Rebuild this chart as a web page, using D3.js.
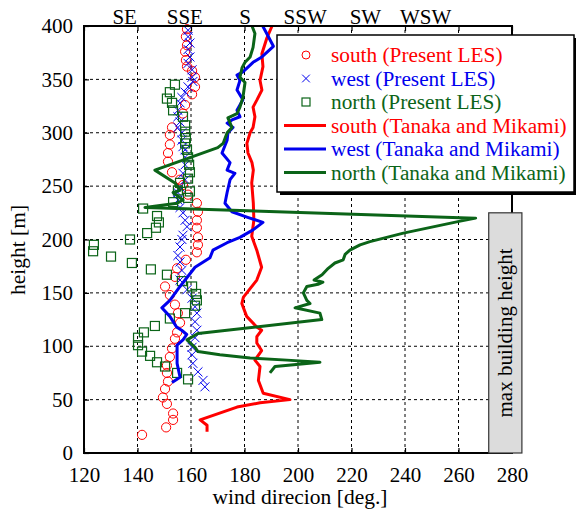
<!DOCTYPE html>
<html>
<head>
<meta charset="utf-8">
<script src="https://cdn.jsdelivr.net/npm/d3@7"></script>
<style>
  body { margin: 0; background: #fff; }
  svg text { font-family: "Liberation Serif", "Times New Roman", serif !important; }
</style>
</head>
<body>
<svg id="chart"></svg>
<script>
// [height (m), wind direction (deg)]
const southLES = [[397,158.5],[390,158.1],[382,158.5],[376,157.8],[368,158.1],[362,158.5],[358,160.4],[352,161.5],[343,161.5],[336,160.4],[326,157.8],[318,157],[305,152.9],[298,152.1],[289,152.1],[281,151.4],[273,151.4],[263,152.9],[256,155.9],[251,157],[242,158.9],[234,162.2],[226,162.6],[218,162.2],[211,162.2],[202,162.6],[195,162.6],[188,162.2],[181,158.1],[173,154.8],[165,154],[156,150.3],[148,152.1],[139,154],[131,155.1],[122,155.9],[113,154.8],[107,154],[98,152.9],[90,152.1],[82,151],[75,151],[67,151.4],[60,150.3],[52,149.5],[46,151],[37,153.3],[31,153.3],[24,150.7],[17,141.7]];
const westLES = [[396,158.9],[390,158.9],[384,159.6],[378,158.9],[371,159.6],[365,158.9],[359,160.4],[352,160.4],[348,160.7],[343,158.9],[338,157.8],[333,156.6],[328,155.9],[321,155.1],[315,155.1],[310,155.9],[305,155.1],[300,156.6],[293,156.6],[287,157],[284,157.8],[277,157.8],[270,157.8],[262,157],[256,157.8],[249,155.9],[244,155.1],[237,155.1],[230,155.9],[225,157],[218,157.8],[212,158.5],[204,157],[200,156.6],[193,155.9],[185,155.1],[179,155.9],[171,156.6],[162,155.9],[153,158.5],[145,160.4],[137,161.5],[131,162.2],[123,161.5],[115,162.2],[108,161.5],[99,160.4],[92,160.4],[84,160.7],[76,162.6],[68,164.5],[62,165.2]];
const northLES = [[345,154],[338,152.1],[332,151],[328,152.9],[321,153.3],[315,157],[307,157.8],[301,157.8],[295,158.1],[290,157.8],[284,158.5],[277,158.9],[270,159.3],[263,159.6],[257,158.9],[253,155.9],[246,155.1],[245,159.6],[239,158.9],[235,153.3],[229,142.1],[222,147.3],[216,148],[211,146.9],[206,143.6],[200,137.2],[195,123.7],[189,123.4],[184,130.1],[178,137.9],[172,145],[167,151],[161,156.6],[156,160.4],[149,161.9],[143,162.2],[138,161.5],[131,157.8],[126,152.1],[119,146.5],[113,142.4],[108,140.2],[101,140.2],[95,141.7],[91,144.7],[85,147.3],[81,150.3],[75,154.8],[69,158.9]];

const southTM = [[20,166],[26,166],[31,163.4],[43,177.2],[47,185.8],[50,197],[56,187],[68,185.2],[81,185.8],[87,183.9],[96,186.4],[103,184.6],[109,184.6],[115,186.4],[118,184.6],[128,180.8],[140,179],[146,179.6],[162,184.6],[174,186.4],[190,184.6],[203,182.7],[218,183.5],[234,183.3],[253,182.7],[265,183.3],[272,182.8],[281,181.3],[290,180.9],[300,182.1],[305,183.2],[315,183.9],[324,183.2],[331,184.7],[340,186.5],[349,185.8],[362,186.9],[374,186.5],[389,188.4],[400,190.3]];
const westTM = [[66,152.9],[71,155.9],[84,154.8],[101,154.8],[106,157],[111,158.4],[115,156.5],[118,154.6],[128,152.1],[136,149.1],[143,152.1],[156,155.9],[174,161.5],[183,167.1],[190,168.2],[197,173.5],[202,178.3],[209,183.2],[216,186.9],[221,180.9],[226,175.3],[234,172.7],[244,173.5],[256,174.6],[262,176.4],[265,173.5],[272,174.6],[281,171.6],[293,173.5],[300,173.8],[305,175.7],[309,173.5],[312,175.3],[315,178.3],[321,177.2],[331,179.4],[340,177.2],[349,178.3],[354,177.2],[357,179.4],[366,183.2],[371,186.5],[381,190.8],[393,188.3],[400,186.8]];
const northTM = [[75,189.5],[81,191.4],[85,208.2],[87,195.9],[89,182.1],[92,170.8],[95,162.6],[99,161.5],[106,158.5],[112,162.6],[125,208.9],[131,208.2],[136,198.9],[140,204.5],[143,203.3],[150,202],[156,203.3],[158,207.5],[160,209.3],[162,206],[167,209],[173,211.3],[178,213.8],[181,216.9],[186,217.6],[190,219.4],[195,223.2],[198,226.9],[206,239.4],[217,260.2],[220,266.4],[230,142.8],[234,154.8],[237,157],[244,153.3],[246,155.9],[253,154],[265,146.5],[286,170],[290,172],[300,173.5],[305,175.3],[314,173.8],[318,177.2],[324,178.3],[333,179.4],[347,180.2],[352,178.3],[361,179.1],[366,180.2],[371,182.1],[380,183.2],[393,183.9],[400,182.8]];

const xTicks = [120,140,160,180,200,220,240,260,280];
const yTicks = [0,50,100,150,200,250,300,350,400];
const compassDeg = [135,157.5,180,202.5,225,247.5];
const compassNames = ["SE","SSE","S","SSW","SW","WSW"];
const legendLabels = ["south (Present LES)","west (Present LES)","north (Present LES)",
  "south (Tanaka and Mikami)","west (Tanaka and Mikami)","north (Tanaka and Mikami)"];
const buildingHeight = 225;
const buildingBand = [271.3, 283.7];

let width = 576;
let height = 512;
let red = "#ff0000", blue = "#0000ee", green = "#0b6418";
let serif = "'Liberation Serif', 'Times New Roman', serif";

let svg = d3.select('#chart').attr('width', width).attr('height', height);

let xScale = d3.scaleLinear().domain([120, 280]).range([84, 512]);
let yScale = d3.scaleLinear().domain([0, 400]).range([453, 26]);

// grid
let grid = svg.append("g").attr("class", "grid");
grid.selectAll(".vgrid")
  .data(xTicks.slice(1, -1))
  .enter().append("line")
  .attr("x1", d => xScale(d)).attr("x2", d => xScale(d))
  .attr("y1", yScale(0)).attr("y2", yScale(400))
  .attr("stroke", "#000").attr("stroke-width", 1).attr("stroke-dasharray", "3,3");
grid.selectAll(".hgrid")
  .data(yTicks.slice(1, -1))
  .enter().append("line")
  .attr("x1", xScale(120)).attr("x2", xScale(280))
  .attr("y1", d => yScale(d)).attr("y2", d => yScale(d))
  .attr("stroke", "#000").attr("stroke-width", 1).attr("stroke-dasharray", "3,3");

// LES markers
let marks = svg.append("g");
marks.selectAll(".south")
  .data(southLES)
  .enter().append("circle")
  .attr("cx", d => xScale(d[1])).attr("cy", d => yScale(d[0]))
  .attr("r", 4.6)
  .attr("fill", "none").attr("stroke", red).attr("stroke-width", 1);

let cross = d3.symbol().type(d3.symbolX).size(55);
marks.selectAll(".west")
  .data(westLES)
  .enter().append("path")
  .attr("d", cross)
  .attr("transform", d => "translate(" + xScale(d[1]) + "," + yScale(d[0]) + ")")
  .attr("fill", "none").attr("stroke", blue).attr("stroke-width", 1);

marks.selectAll(".north")
  .data(northLES)
  .enter().append("rect")
  .attr("x", d => xScale(d[1]) - 4.5).attr("y", d => yScale(d[0]) - 4.5)
  .attr("width", 9).attr("height", 9)
  .attr("fill", "none").attr("stroke", green).attr("stroke-width", 1.2);

// Tanaka and Mikami lines
let line = d3.line()
  .x(d => xScale(d[1]))
  .y(d => yScale(d[0]));

[[southTM, red], [westTM, blue], [northTM, green]].forEach(s => {
  svg.append("path")
    .datum(s[0])
    .attr("d", line)
    .attr("fill", "none")
    .attr("stroke", s[1])
    .attr("stroke-width", 3)
    .attr("stroke-linejoin", "round");
});

// frame
svg.append("rect")
  .attr("x", xScale(120)).attr("y", yScale(400))
  .attr("width", xScale(280) - xScale(120))
  .attr("height", yScale(0) - yScale(400))
  .attr("fill", "none").attr("stroke", "#000").attr("stroke-width", 2);

// axes
let xAxis = d3.axisBottom(xScale).tickValues(xTicks).tickSize(-5).tickPadding(14);
svg.append("g")
  .attr("class", "axisX")
  .attr("transform", "translate(0," + yScale(0) + ")")
  .call(xAxis);

let xAxisTop = d3.axisTop(xScale).tickValues(xTicks).tickSize(-5).tickFormat("");
svg.append("g")
  .attr("class", "axisTop")
  .attr("transform", "translate(0," + yScale(400) + ")")
  .call(xAxisTop);

let compassAxis = d3.axisTop(xScale).tickValues(compassDeg).tickSize(0).tickPadding(2)
  .tickFormat((d, i) => compassNames[i]);
svg.append("g")
  .attr("class", "axisCompass")
  .attr("transform", "translate(0," + yScale(400) + ")")
  .call(compassAxis);

let yAxis = d3.axisLeft(yScale).tickValues(yTicks).tickSize(-5).tickPadding(11);
svg.append("g")
  .attr("class", "axisY")
  .attr("transform", "translate(" + xScale(120) + ",0)")
  .call(yAxis);

svg.selectAll(".axisX, .axisTop, .axisCompass, .axisY")
  .attr("font-family", serif)
  .select(".domain").remove();
svg.selectAll(".tick line").attr("stroke", "#000").attr("stroke-width", 1.2);
svg.selectAll(".tick text")
  .style("font-family", serif)
  .attr("font-size", 21)
  .attr("fill", "#000");

// axis titles
svg.append("text")
  .attr("x", (xScale(120) + xScale(280)) / 2 + 2)
  .attr("y", 504)
  .attr("text-anchor", "middle")
  .style("font-family", serif)
  .attr("font-size", 21.5)
  .text("wind direcion [deg.]");

svg.append("text")
  .attr("transform", "translate(25," + 250 + ") rotate(-90)")
  .attr("text-anchor", "middle")
  .style("font-family", serif)
  .attr("font-size", 21.5)
  .text("height [m]");

// max building height band
let band = svg.append("g");
band.append("rect")
  .attr("x", xScale(buildingBand[0])).attr("y", yScale(buildingHeight))
  .attr("width", xScale(buildingBand[1]) - xScale(buildingBand[0]))
  .attr("height", yScale(0) - yScale(buildingHeight))
  .attr("fill", "#dcdcdc").attr("stroke", "#333").attr("stroke-width", 1.2);
band.append("text")
  .attr("transform", "translate(" + (xScale((buildingBand[0] + buildingBand[1]) / 2) + 7) + ","
    + yScale(buildingHeight / 2) + ") rotate(-90)")
  .attr("text-anchor", "middle")
  .style("font-family", serif)
  .attr("font-size", 21)
  .text("max building height");

// legend
let lg = svg.append("g").attr("transform", "translate(277,35)");
lg.append("rect")
  .attr("x", 3).attr("y", 3).attr("width", 297).attr("height", 157)
  .attr("fill", "#000");
lg.append("rect")
  .attr("x", 0).attr("y", 0).attr("width", 297).attr("height", 157)
  .attr("fill", "#fff").attr("stroke", "#000").attr("stroke-width", 1.5);

let legendColors = [red, blue, green, red, blue, green];
let rowY = i => 20 + i * 23.5;

lg.selectAll(".ltext")
  .data(legendLabels)
  .enter().append("text")
  .attr("x", 54)
  .attr("y", (d, i) => rowY(i) + 7)
  .style("font-family", serif)
  .attr("font-size", 21.3)
  .attr("fill", (d, i) => legendColors[i])
  .text(d => d);

lg.append("circle").attr("cx", 29).attr("cy", rowY(0)).attr("r", 4)
  .attr("fill", "none").attr("stroke", red).attr("stroke-width", 1);
lg.append("path").attr("d", d3.symbol().type(d3.symbolX).size(40))
  .attr("transform", "translate(29," + rowY(1) + ")")
  .attr("fill", "none").attr("stroke", blue).attr("stroke-width", 1);
lg.append("rect").attr("x", 25).attr("y", rowY(2) - 4).attr("width", 8).attr("height", 8)
  .attr("fill", "none").attr("stroke", green).attr("stroke-width", 1.2);
[3, 4, 5].forEach(i => {
  lg.append("line")
    .attr("x1", 7).attr("x2", 49)
    .attr("y1", rowY(i)).attr("y2", rowY(i))
    .attr("stroke", legendColors[i]).attr("stroke-width", 3);
});
</script>
</body>
</html>
